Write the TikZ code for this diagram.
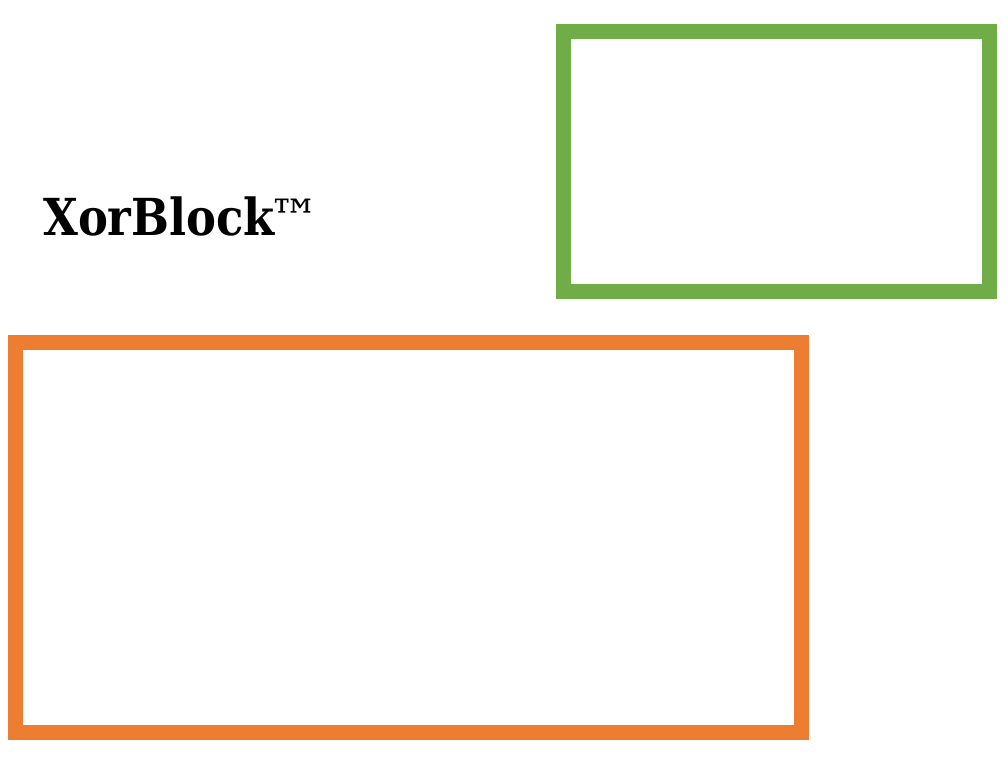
\documentclass[tikz,border=0pt]{standalone}
\usepackage{fontspec}
\setmainfont{DejaVu Serif}
\definecolor{boxgreen}{HTML}{70AD47}
\definecolor{boxorange}{HTML}{ED7D31}
\tikzset{
  frame/.style={draw=#1, line width=15pt, fill=none},
  title/.style={anchor=base west, inner sep=0pt, font=\fontsize{51}{60}\selectfont\bfseries}
}
\begin{document}
\begin{tikzpicture}[x=1pt,y=-1pt]
\useasboundingbox (0,0) rectangle (1008,758);
\node[frame=boxgreen, rectangle, minimum width=426pt, minimum height=260pt, inner sep=0pt] (green) at (776.5,161.5) {};
\node[frame=boxorange, rectangle, minimum width=786pt, minimum height=390pt, inner sep=0pt] (orange) at (408.5,537.5) {};
\node[title] (t) at (43,235) {\scalebox{0.88}[1]{XorBlock}\kern-5pt{\fontseries{m}\fontsize{50}{60}\selectfont™}};
\end{tikzpicture}
\end{document}
